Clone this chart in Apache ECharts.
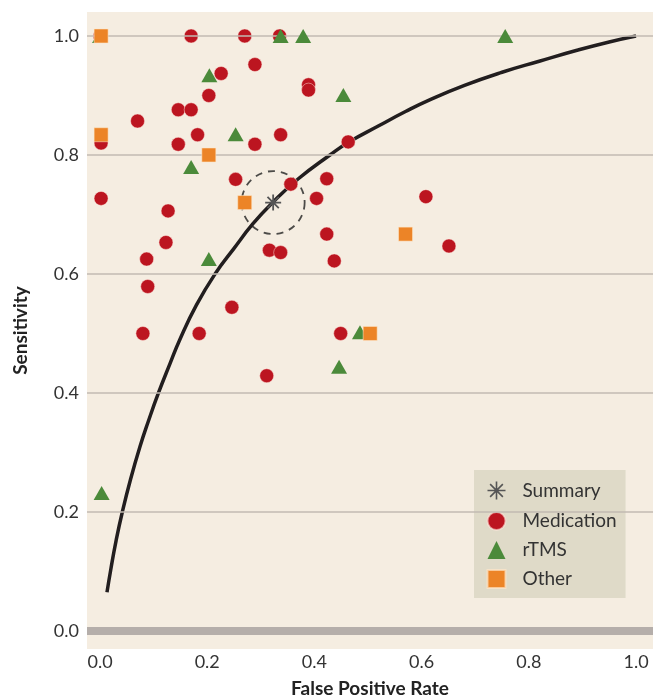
<!DOCTYPE html>
<html><head><meta charset="utf-8">
<script src="https://cdn.jsdelivr.net/npm/echarts@6/dist/echarts.min.js"></script>
<style>html,body{margin:0;padding:0;background:#fff}#c{width:654px;height:696px}</style>
</head><body><div id="c"></div>
<script>
const xTicks = [0, 0.2, 0.4, 0.6, 0.8, 1.0];
const yTicks = [0, 0.2, 0.4, 0.6, 0.8, 1.0];
const summary = [[0.323, 0.720]];
const medication = [
 [0.0,1.0],[0.170,1.0],[0.27,1.0],[0.335,1.0],[0.226,0.937],[0.289,0.952],[0.203,0.900],
 [0.146,0.876],[0.170,0.876],[0.070,0.857],[0.002,0.820],[0.146,0.818],[0.182,0.834],
 [0.289,0.818],[0.337,0.834],[0.389,0.918],[0.389,0.909],[0.463,0.822],[0.253,0.759],
 [0.002,0.727],[0.127,0.706],[0.356,0.751],[0.423,0.760],[0.404,0.727],[0.608,0.730],
 [0.123,0.653],[0.087,0.625],[0.089,0.579],[0.246,0.544],[0.080,0.500],[0.185,0.500],
 [0.311,0.429],[0.316,0.640],[0.337,0.636],[0.423,0.667],[0.651,0.647],[0.437,0.622],[0.449,0.500]
];
const rtms = [
 [0.0,1.0],[0.337,1.0],[0.379,1.0],[0.756,1.0],[0.204,0.934],[0.454,0.901],[0.253,0.835],
 [0.170,0.780],[0.203,0.625],[0.485,0.502],[0.446,0.444],[0.003,0.232]
];
const other = [[0.002,1.0],[0.002,0.834],[0.203,0.800],[0.270,0.720],[0.570,0.667],[0.504,0.500]];
const curve = [
 [0.013,0.065],[0.020,0.103],[0.030,0.152],[0.0416,0.2],[0.057,0.255],[0.0746,0.31],
 [0.09,0.352],[0.109,0.4],[0.13,0.448],[0.149,0.49],[0.18,0.548],[0.2146,0.6],
 [0.25,0.643],[0.285,0.684],[0.322,0.72],[0.37,0.76],[0.429,0.8],[0.463,0.821],
 [0.52,0.849],[0.57,0.873],[0.616,0.893],[0.68,0.917],[0.75,0.939],[0.821,0.958],
 [0.89,0.976],[0.95,0.99],[1,1]
];
const gridValues = [0.2, 0.4, 0.6, 0.8, 1.0];

const FONT = 'Lato';
const asterisk = 'path://M0,-10L0,10M-10,0L10,0M-7.07,-7.07L7.07,7.07M-7.07,7.07L7.07,-7.07';
const chart = echarts.init(document.getElementById('c'), null, {renderer: 'canvas'});
chart.setOption({
  animation: false,
  backgroundColor: '#ffffff',
  grid: {left: 87, right: 1, top: 12, bottom: 47, show: true, backgroundColor: '#f5ede1', borderWidth: 0,
         outerBoundsMode: 'none', containLabel: false},
  xAxis: {
    type: 'value', min: -0.0243, max: 1.0317,
    name: 'False Positive Rate', nameLocation: 'middle', nameGap: 30,
    nameTextStyle: {fontFamily: FONT, fontWeight: 'bold', fontSize: 19, color: '#222'},
    axisLine: {show: false}, axisTick: {show: false, customValues: xTicks}, splitLine: {show: false},
    axisLabel: {customValues: xTicks, formatter: v => v.toFixed(1), fontFamily: FONT, fontSize: 18, color: '#333', margin: 4}
  },
  yAxis: {
    type: 'value', min: -0.0303, max: 1.0403,
    name: 'Sensitivity', nameLocation: 'middle', nameGap: 57, nameRotate: 90,
    nameTextStyle: {fontFamily: FONT, fontWeight: 'bold', fontSize: 19, color: '#222'},
    axisLine: {show: false}, axisTick: {show: false, customValues: yTicks}, splitLine: {show: false},
    axisLabel: {customValues: yTicks, formatter: v => v.toFixed(1), fontFamily: FONT, fontSize: 18, color: '#333', margin: 8}
  },
  legend: {
    orient: 'vertical', left: 474, top: 470,
    backgroundColor: '#dfdac8', padding: [9, 9, 9, 11],
    itemWidth: 18, itemHeight: 18, itemGap: 9,
    textStyle: {fontFamily: FONT, fontSize: 19, lineHeight: 20, color: '#333', padding: [0, 0, 0, 12]},
    data: [
      {name: 'Summary', icon: asterisk, itemStyle: {color: 'none', borderColor: '#555', borderWidth: 1.6}},
      {name: 'Medication', icon: 'circle'},
      {name: 'rTMS', icon: 'triangle'},
      {name: 'Other', icon: 'rect'}
    ]
  },
  series: [
    {
      type: 'line', name: 'grid', data: [], silent: true, z: 1,
      markLine: {
        silent: true, symbol: 'none', label: {show: false},
        data: gridValues.map(v => ({yAxis: v, lineStyle: {color: '#c2bab2', width: 1.5, type: 'solid'}}))
          .concat([{yAxis: 0, lineStyle: {color: '#b5aeaa', width: 8, type: 'solid'}}])
      }
    },
    {
      type: 'line', name: 'curve', data: curve, smooth: true, showSymbol: false, z: 2,
      lineStyle: {color: '#221e1f', width: 3.5}
    },
    {
      type: 'scatter', name: 'ci', data: summary, z: 3, symbol: 'circle', symbolSize: 63, silent: true,
      itemStyle: {color: 'rgba(0,0,0,0)', borderColor: '#222', borderWidth: 1.8, borderType: [7, 6]}
    },
    {
      type: 'scatter', name: 'Medication', data: medication, z: 4, symbol: 'circle', symbolSize: 14,
      itemStyle: {color: '#bc1520', borderColor: 'rgba(255,230,220,0.6)', borderWidth: 0.8, opacity: 1}
    },
    {
      type: 'scatter', name: 'rTMS', data: rtms, z: 5, symbol: 'triangle', symbolSize: [16, 14],
      itemStyle: {color: '#4b8a3a', opacity: 1}
    },
    {
      type: 'scatter', name: 'Other', data: other, z: 6, symbol: 'rect', symbolSize: 14,
      itemStyle: {color: '#ec8427', borderColor: 'rgba(255,230,200,0.7)', borderWidth: 0.8, opacity: 1}
    },
    {
      type: 'scatter', name: 'Summary', data: summary, z: 7, symbol: asterisk, symbolSize: 16,
      itemStyle: {color: 'none', borderColor: '#555', borderWidth: 1.8, opacity: 1}
    }
  ]
});
</script></body></html>
